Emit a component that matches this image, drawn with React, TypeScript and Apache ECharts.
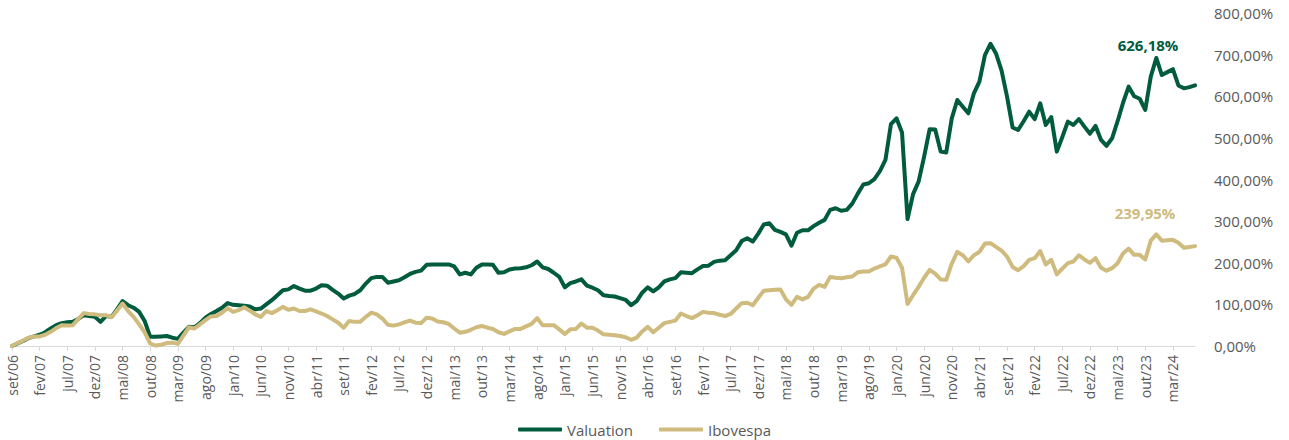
import React, { useEffect, useRef } from "react";
import * as echarts from "echarts";

const MONTHS = ["jan", "fev", "mar", "abr", "mai", "jun", "jul", "ago", "set", "out", "nov", "dez"];
const START_YEAR = 2006;
const START_MONTH = 8; // set

const valuation = [
  0, 6, 12, 19, 23, 27, 33, 42, 50, 55, 57, 58, 65, 74, 72, 70, 58, 72, 70, 88,
  108, 98, 92, 82, 60, 22, 22, 23, 24, 20, 17, 32, 46, 45, 55, 68, 77, 84, 92, 103,
  99, 98, 97, 95, 88, 90, 100, 110, 122, 134, 136, 144, 138, 133, 133, 138, 146, 145, 135, 126,
  114, 121, 125, 134, 150, 163, 166, 166, 152, 155, 158, 165, 173, 178, 181, 195, 196, 196, 196, 196,
  191, 172, 176, 172, 188, 196, 196, 195, 176, 177, 184, 186, 187, 189, 194, 203, 189, 185, 176, 166,
  141, 151, 155, 160, 145, 140, 134, 122, 120, 119, 115, 111, 98, 108, 128, 141, 131, 141, 155, 160,
  163, 177, 176, 175, 184, 192, 193, 202, 205, 206, 218, 230, 252, 259, 251, 270, 292, 295, 279, 274,
  268, 241, 272, 278, 278, 288, 296, 303, 327, 331, 325, 327, 342, 366, 388, 391, 401, 420, 447, 533,
  547, 513, 305, 365, 395, 455, 521, 520, 467, 465, 547, 591, 575, 559, 607, 635, 699, 726, 703, 662,
  599, 525, 519, 540, 563, 545, 583, 531, 550, 467, 502, 539, 531, 545, 527, 510, 529, 495, 481, 499,
  540, 585, 623, 600, 594, 567, 647, 692, 651, 658, 665, 626, 619, 622, 626.18,
];

const ibovespa = [
  0, 7, 13, 20, 23, 23, 27, 34, 43, 50, 49, 50, 65, 79, 77, 76, 74, 74, 69, 85,
  102, 84, 70, 52, 33, 6, 1, 3, 7, 8, 5, 25, 45, 42, 52, 62, 71, 72, 80, 91,
  82, 86, 93, 85, 76, 70, 84, 79, 86, 94, 87, 90, 84, 84, 88, 83, 78, 72, 64, 56,
  44, 60, 58, 58, 70, 80, 76, 66, 51, 49, 52, 57, 61, 56, 55, 68, 66, 59, 57, 53,
  42, 32, 34, 39, 45, 48, 44, 41, 33, 29, 35, 41, 41, 47, 53, 67, 50, 50, 50, 40,
  29, 40, 41, 54, 44, 44, 37, 28, 27, 26, 24, 21, 15, 20, 35, 46, 33, 44, 55, 58,
  61, 78, 72, 67, 74, 82, 80, 79, 75, 72, 77, 90, 103, 104, 98, 116, 133, 134, 135, 136,
  112, 99, 118, 112, 118, 138, 147, 142, 166, 164, 163, 165, 167, 177, 179, 179, 186, 191, 196, 215,
  212, 188, 101, 122, 142, 164, 183, 174, 160, 159, 198, 226, 218, 203, 218, 226, 246, 247, 238, 229,
  215, 190, 182, 192, 207, 211, 228, 196, 207, 172, 186, 199, 203, 218, 208, 200, 211, 188, 181, 187,
  199, 223, 234, 219, 219, 208, 253, 268, 253, 254, 255, 248, 236, 238, 239.95,
];

const categories: string[] = valuation.map((_, i) => {
  const m = START_MONTH + i;
  const y = START_YEAR + Math.floor(m / 12);
  return `${MONTHS[m % 12]}/${String(y % 100).padStart(2, "0")}`;
});

const Y_TICKS = { min: 0, max: 800, interval: 100 };

const GREEN = "#005C3C";
const TAN = "#CFBB7E";
const GRAY = "#595959";

const pct = (v: number) => v.toFixed(2).replace(".", ",") + "%";

export default function App() {
  const ref = useRef<HTMLDivElement>(null);
  useEffect(() => {
    if (!ref.current) return;
    const chart = echarts.init(ref.current, null, { renderer: "svg" });
    const last = categories.length - 1;
    chart.setOption({
      animation: false,
      textStyle: { fontFamily: "Open Sans" },
      grid: { left: 12, right: 94, top: 13, bottom: 94, containLabel: false },
      legend: {
        top: 417,
        left: "center",
        itemWidth: 44,
        itemHeight: 4,
        itemGap: 26,
        icon: "roundRect",
        textStyle: { color: GRAY, fontSize: 15, fontFamily: "Open Sans" },
        data: ["Valuation", "Ibovespa"],
      },
      xAxis: {
        type: "category",
        data: categories,
        boundaryGap: false,
        axisLine: { lineStyle: { color: "#D9D9D9", width: 1 } },
        axisTick: { show: true, interval: 4, length: 5, lineStyle: { color: "#D9D9D9" } },
        axisLabel: {
          interval: 4,
          rotate: 90,
          margin: 9,
          color: GRAY,
          fontSize: 14,
          fontFamily: "Open Sans",
        },
        splitLine: { show: false },
      },
      yAxis: {
        type: "value",
        position: "right",
        min: Y_TICKS.min,
        max: Y_TICKS.max,
        interval: Y_TICKS.interval,
        axisLine: { show: false },
        axisTick: { show: false },
        splitLine: { show: false },
        axisLabel: {
          margin: 19,
          color: GRAY,
          fontSize: 15,
          fontFamily: "Open Sans",
          formatter: (v: number) => pct(v),
        },
      },
      series: [
        {
          name: "Valuation",
          type: "line",
          data: valuation,
          showSymbol: false,
          symbol: "none",
          lineStyle: { color: GREEN, width: 4, join: "round", cap: "round" },
          itemStyle: { color: GREEN },
          markPoint: {
            symbol: "circle",
            symbolSize: 0,
            data: [{ coord: [categories[last], valuation[last]], value: valuation[last] }],
            label: {
              show: true,
              formatter: (p: any) => pct(p.value),
              offset: [-47, -40],
              color: GREEN,
              fontWeight: "bold",
              fontSize: 15,
              fontFamily: "Open Sans",
            },
          },
        },
        {
          name: "Ibovespa",
          type: "line",
          data: ibovespa,
          showSymbol: false,
          symbol: "none",
          lineStyle: { color: TAN, width: 4, join: "round", cap: "round" },
          itemStyle: { color: TAN },
          markPoint: {
            symbol: "circle",
            symbolSize: 0,
            data: [{ coord: [categories[last], ibovespa[last]], value: ibovespa[last] }],
            label: {
              show: true,
              formatter: (p: any) => pct(p.value),
              offset: [-50, -33],
              color: TAN,
              fontWeight: "bold",
              fontSize: 15,
              fontFamily: "Open Sans",
            },
          },
        },
      ],
    });
    return () => chart.dispose();
  }, []);
  return (
    <div
      ref={ref}
      style={{ position: "absolute", left: 0, top: 0, width: 1289, height: 440 }}
    />
  );
}
